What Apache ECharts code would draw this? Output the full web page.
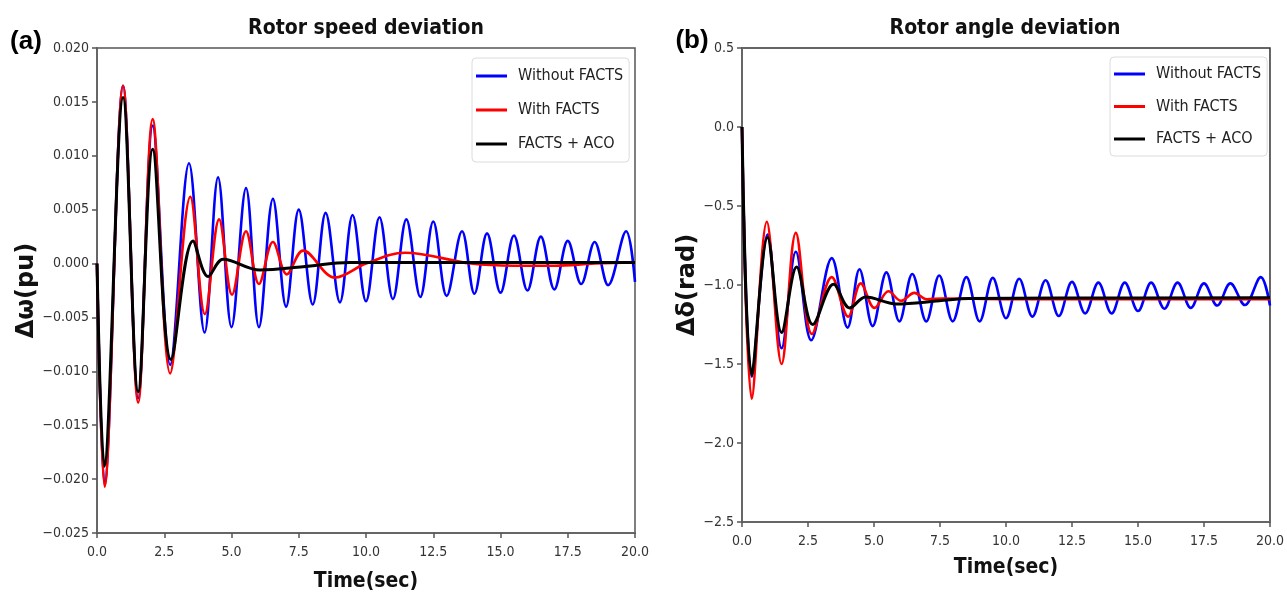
<!DOCTYPE html>
<html>
<head>
<meta charset="utf-8">
<title>Rotor deviation</title>
<script src="https://cdn.jsdelivr.net/npm/echarts@6.0.0/dist/echarts.min.js"></script>
<style>
  html, body { margin: 0; padding: 0; background: #fff; }
  #charts { width: 1287px; height: 597px; }
</style>
</head>
<body>
<div id="charts"></div>
<script>
// Series names
const names = ['Without FACTS', 'With FACTS', 'FACTS + ACO'];

// (a) Rotor speed deviation, [time (s), value (pu)]
const speedWithout = [[0, 0], [0.28, -0.0205], [0.97, 0.0165], [1.53, -0.0125], [2.07, 0.0128], [2.72, -0.0094],
    [3.42, 0.0093], [4.0, -0.0064], [4.5, 0.0080], [5.0, -0.0059], [5.54, 0.0070], [6.02, -0.0059],
    [6.54, 0.0060], [7.03, -0.0040], [7.5, 0.0050], [8.02, -0.0038], [8.5, 0.0047], [9.03, -0.0036],
    [9.5, 0.0045], [10.0, -0.0035], [10.5, 0.0043], [11.0, -0.0033], [11.5, 0.0041], [12.02, -0.0031],
    [12.5, 0.0039], [13.0, -0.0030], [13.57, 0.0030], [14.03, -0.0028], [14.5, 0.0028], [15.0, -0.0027],
    [15.5, 0.0026], [16.0, -0.0025], [16.5, 0.0025], [17.0, -0.0024], [17.5, 0.0021], [18.0, -0.0019],
    [18.5, 0.0020], [19.0, -0.0020], [19.67, 0.0030], [20, -0.0017]];
const speedWith = [[0, 0], [0.28, -0.0207], [0.97, 0.0165], [1.53, -0.0129], [2.07, 0.0134], [2.72, -0.0102],
    [3.47, 0.0062], [4.01, -0.0047], [4.54, 0.0041], [5.02, -0.0029], [5.54, 0.0030], [6.02, -0.0019],
    [6.54, 0.0020], [7.06, -0.0010], [7.66, 0.0012], [8.85, -0.0013], [10.0, 0.0], [11.45, 0.0010],
    [13.9, 0.0], [15.5, -0.0002], [17.0, -0.0002], [18.5, 0.0], [20, 0.0001]];
const speedAco = [[0, 0], [0.27, -0.0188], [0.97, 0.0154], [1.53, -0.0119], [2.07, 0.0106], [2.75, -0.0089],
    [3.57, 0.0021], [4.13, -0.0012], [4.69, 0.0004], [6.06, -0.0006], [7.66, -0.0003], [9.4, 0.0001],
    [14, 0.0001], [20, 0.0001]];

// (b) Rotor angle deviation, [time (s), value (rad)]
const angleWithout = [[0, 0], [0.37, -1.58], [0.97, -0.68], [1.5, -1.40], [2.04, -0.79], [2.62, -1.35],
    [3.4, -0.83], [4.0, -1.27], [4.45, -0.90], [4.95, -1.26], [5.47, -0.92], [5.96, -1.23],
    [6.45, -0.93], [6.98, -1.23], [7.47, -0.94], [7.98, -1.23], [8.5, -0.95], [9.0, -1.23],
    [9.5, -0.955], [10.0, -1.21], [10.5, -0.96], [11.0, -1.20], [11.5, -0.97], [12.0, -1.196],
    [12.5, -0.98], [13.0, -1.18], [13.5, -0.985], [14.0, -1.18], [14.5, -0.985], [15.0, -1.165],
    [15.5, -0.985], [16.0, -1.15], [16.5, -0.985], [17.0, -1.145], [17.5, -0.99], [18.0, -1.13],
    [18.5, -0.99], [19.05, -1.127], [19.65, -0.95], [20, -1.13]];
const angleWith = [[0, 0], [0.37, -1.72], [0.94, -0.60], [1.5, -1.50], [2.04, -0.67], [2.65, -1.31],
    [3.4, -0.95], [4.02, -1.20], [4.5, -0.99], [5.02, -1.145], [5.55, -1.04], [6.02, -1.10],
    [6.53, -1.05], [7.0, -1.09], [7.6, -1.085], [10, -1.09], [15, -1.09], [20, -1.09]];
const angleAco = [[0, 0], [0.37, -1.57], [0.97, -0.70], [1.5, -1.30], [2.07, -0.886], [2.68, -1.25],
    [3.47, -0.995], [4.08, -1.145], [4.68, -1.076], [5.85, -1.12], [7.47, -1.10], [8.6, -1.085],
    [12, -1.083], [20, -1.08]];

const colors = ['#0000ff', '#ff0000', '#000000'];
const narrow = '"Liberation Sans Narrow", "DejaVu Sans Condensed", "Arial Narrow", sans-serif';

function tickFmt(digits) {
    return function (v) {
        if (Math.abs(v) < 1e-9) v = 0;
        return (v < 0 ? '\u2212' : '') + Math.abs(v).toFixed(digits);
    };
}

function xAxis(gridIndex, gap) {
    return {
        type: 'value', gridIndex: gridIndex, min: 0, max: 20, interval: 2.5,
        name: 'Time(sec)', nameLocation: 'middle', nameGap: gap,
        nameTextStyle: { fontFamily: narrow, fontWeight: 'bold', fontSize: 21, color: '#111' },
        axisLine: { show: true, onZero: false, lineStyle: { color: '#666', width: 2 } },
        axisTick: { show: true, length: 5, lineStyle: { color: '#555', width: 1.5 } },
        axisLabel: { formatter: tickFmt(1), color: '#333', fontFamily: narrow, fontSize: 14, margin: 12 },
        splitLine: { show: false }
    };
}

function yAxis(gridIndex, min, max, interval, digits, name, gap) {
    return {
        type: 'value', gridIndex: gridIndex, min: min, max: max, interval: interval,
        name: name, nameLocation: 'middle', nameGap: gap,
        nameTextStyle: { fontFamily: 'DejaVu Sans', fontWeight: 'bold', fontSize: 24, color: '#111' },
        axisLine: { show: true, onZero: false, lineStyle: { color: '#666', width: 2 } },
        axisTick: { show: true, length: 5, lineStyle: { color: '#555', width: 1.5 } },
        axisLabel: { formatter: tickFmt(digits), color: '#333', fontFamily: narrow, fontSize: 14, margin: 8 },
        splitLine: { show: false }
    };
}

function legend(left, top, gap, padTop) {
    return {
        data: names, orient: 'vertical', left: left, top: top,
        icon: 'rect', itemWidth: 31, itemHeight: 3, itemGap: gap,
        padding: [padTop, 6, padTop, 4],
        backgroundColor: '#fff', borderColor: '#dcdcdc', borderWidth: 1, borderRadius: 4,
        textStyle: { fontFamily: narrow, fontSize: 16, color: '#222', lineHeight: 20, padding: [0, 0, 0, 6] }
    };
}

function line(name, data, idx, color, width) {
    return {
        name: name, type: 'line', xAxisIndex: idx, yAxisIndex: idx, data: data,
        showSymbol: false, smooth: 0.36, clip: true,
        lineStyle: { color: color, width: width }, itemStyle: { color: color }
    };
}

var Charts = echarts.init(document.getElementById('charts'));
Charts.setOption({
    animation: false,
    backgroundColor: '#fff',
    title: [
        { text: 'Rotor speed deviation', left: 366, top: 18, textAlign: 'center', padding: 0,
          textStyle: { fontFamily: narrow, fontWeight: 'bold', fontSize: 21, color: '#111' } },
        { text: 'Rotor angle deviation', left: 1005, top: 18, textAlign: 'center', padding: 0,
          textStyle: { fontFamily: narrow, fontWeight: 'bold', fontSize: 21, color: '#111' } },
        { text: '(a)', left: 26, top: 29, textAlign: 'center', padding: 0,
          textStyle: { fontFamily: 'Liberation Sans', fontWeight: 'bold', fontSize: 26, color: '#000' } },
        { text: '(b)', left: 692, top: 28, textAlign: 'center', padding: 0,
          textStyle: { fontFamily: 'Liberation Sans', fontWeight: 'bold', fontSize: 26, color: '#000' } }
    ],
    legend: [legend(472, 58, 14, 8), legend(1110, 57, 12.5, 7)],
    grid: [
        { left: 97, top: 48, width: 538, height: 487, show: true, borderColor: '#555', borderWidth: 1.5 },
        { left: 742, top: 48, width: 530, height: 474, show: true, borderColor: '#333', borderWidth: 1.5 }
    ],
    xAxis: [xAxis(0, 38), xAxis(1, 35)],
    yAxis: [
        yAxis(0, -0.025, 0.02, 0.005, 3, '\u0394\u03c9(pu)', 52),
        yAxis(1, -2.5, 0.5, 0.5, 1, '\u0394\u03b4(rad)', 35)
    ],
    series: [
        line(names[0], speedWithout, 0, colors[0], 2.6),
        line(names[1], speedWith, 0, colors[1], 2.6),
        line(names[2], speedAco, 0, colors[2], 3),
        line(names[0], angleWithout, 1, colors[0], 2.6),
        line(names[1], angleWith, 1, colors[1], 2.6),
        line(names[2], angleAco, 1, colors[2], 3)
    ]
});
</script>
</body>
</html>
